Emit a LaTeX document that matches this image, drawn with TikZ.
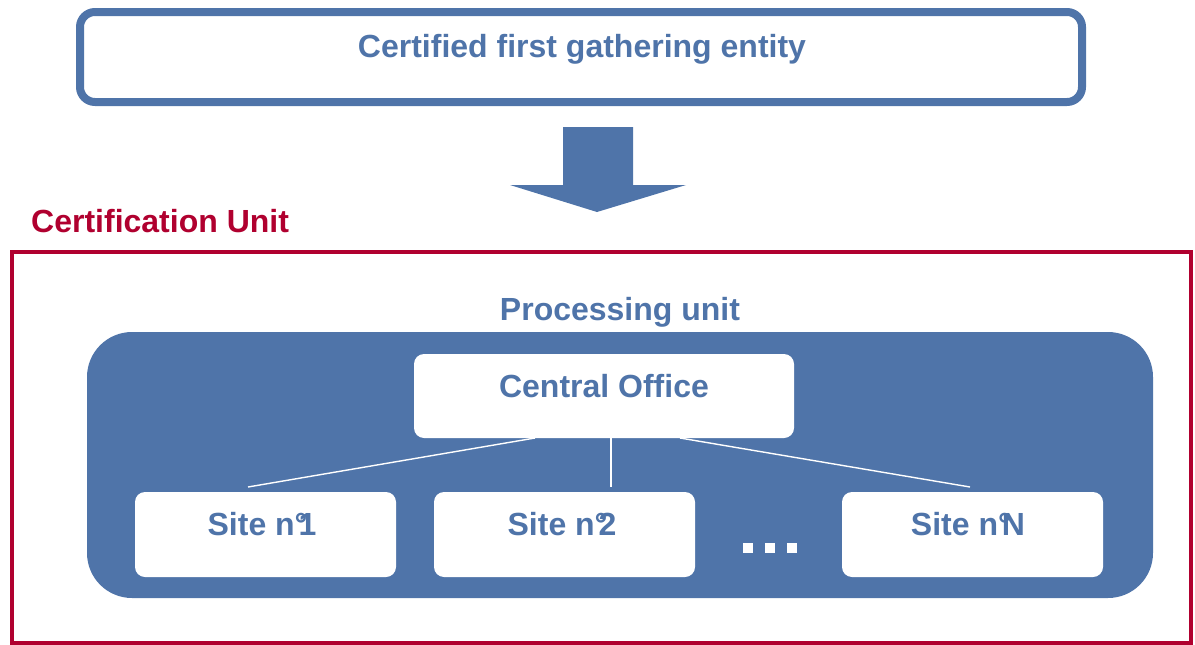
\documentclass[tikz,border=0pt]{standalone}
\usepackage{fontspec}
\setmainfont{Liberation Sans}
\definecolor{ublue}{HTML}{4F74A9}
\definecolor{ured}{HTML}{B0002F}
\newcommand{\degk}{°\kern-0.28em}
\begin{document}
\begin{tikzpicture}[x=1pt,y=-1pt,
  every node/.style={font=\fontsize{32}{38}\selectfont\bfseries, inner sep=0pt},
  bluetext/.style={text=ublue},
  whitebox/.style={fill=white, rounded corners=10pt, draw=none},
  link/.style={draw=white, line width=1.4pt}]
\useasboundingbox (0,0) rectangle (1195,645);
% top box
\draw[ublue, line width=8pt, rounded corners=15pt] (80,12) rectangle (1082,102);
\node[bluetext] (top) at (582,49) {Certified first gathering entity};
% arrow
\fill[ublue] (563,127) -- (633,127) -- (633,185) -- (686,185) -- (597,212) -- (510,185) -- (563,185) -- cycle;
% certification unit
\node[text=ured, anchor=west] (cu) at (31,221) {Certification Unit};
\draw[ured, line width=4pt] (12,252) rectangle (1191,643);
% processing unit
\node[bluetext] (pu) at (620,312) {Processing unit};
\fill[ublue, rounded corners=45pt] (87,332) rectangle (1153,598);
% central office
\path[whitebox] (414,354) rectangle (794,438);
\node[bluetext] (co) at (604,386) {Central Office};
% sites
\path[whitebox] (135,492) rectangle (396,577);
\path[whitebox] (434,492) rectangle (695,577);
\path[whitebox] (842,492) rectangle (1103,577);
\node[bluetext] (s1) at (262,524) {Site n\degk1};
\node[bluetext] (s2) at (562,524) {Site n\degk2};
\node[bluetext] (sn) at (968,524) {Site n\degk N};
% links
\coordinate (a1) at (535,438); \coordinate (b1) at (248,487);
\coordinate (a2) at (611,438); \coordinate (b2) at (611,487);
\coordinate (a3) at (680,438); \coordinate (b3) at (970,487);
\draw[link] (a1) -- (b1);
\draw[link] (a2) -- (b2);
\draw[link] (a3) -- (b3);
% dots
\fill[white] (743,543) rectangle (753,553);
\fill[white] (765,543) rectangle (775,553);
\fill[white] (787,543) rectangle (797,553);
\end{tikzpicture}
\end{document}
